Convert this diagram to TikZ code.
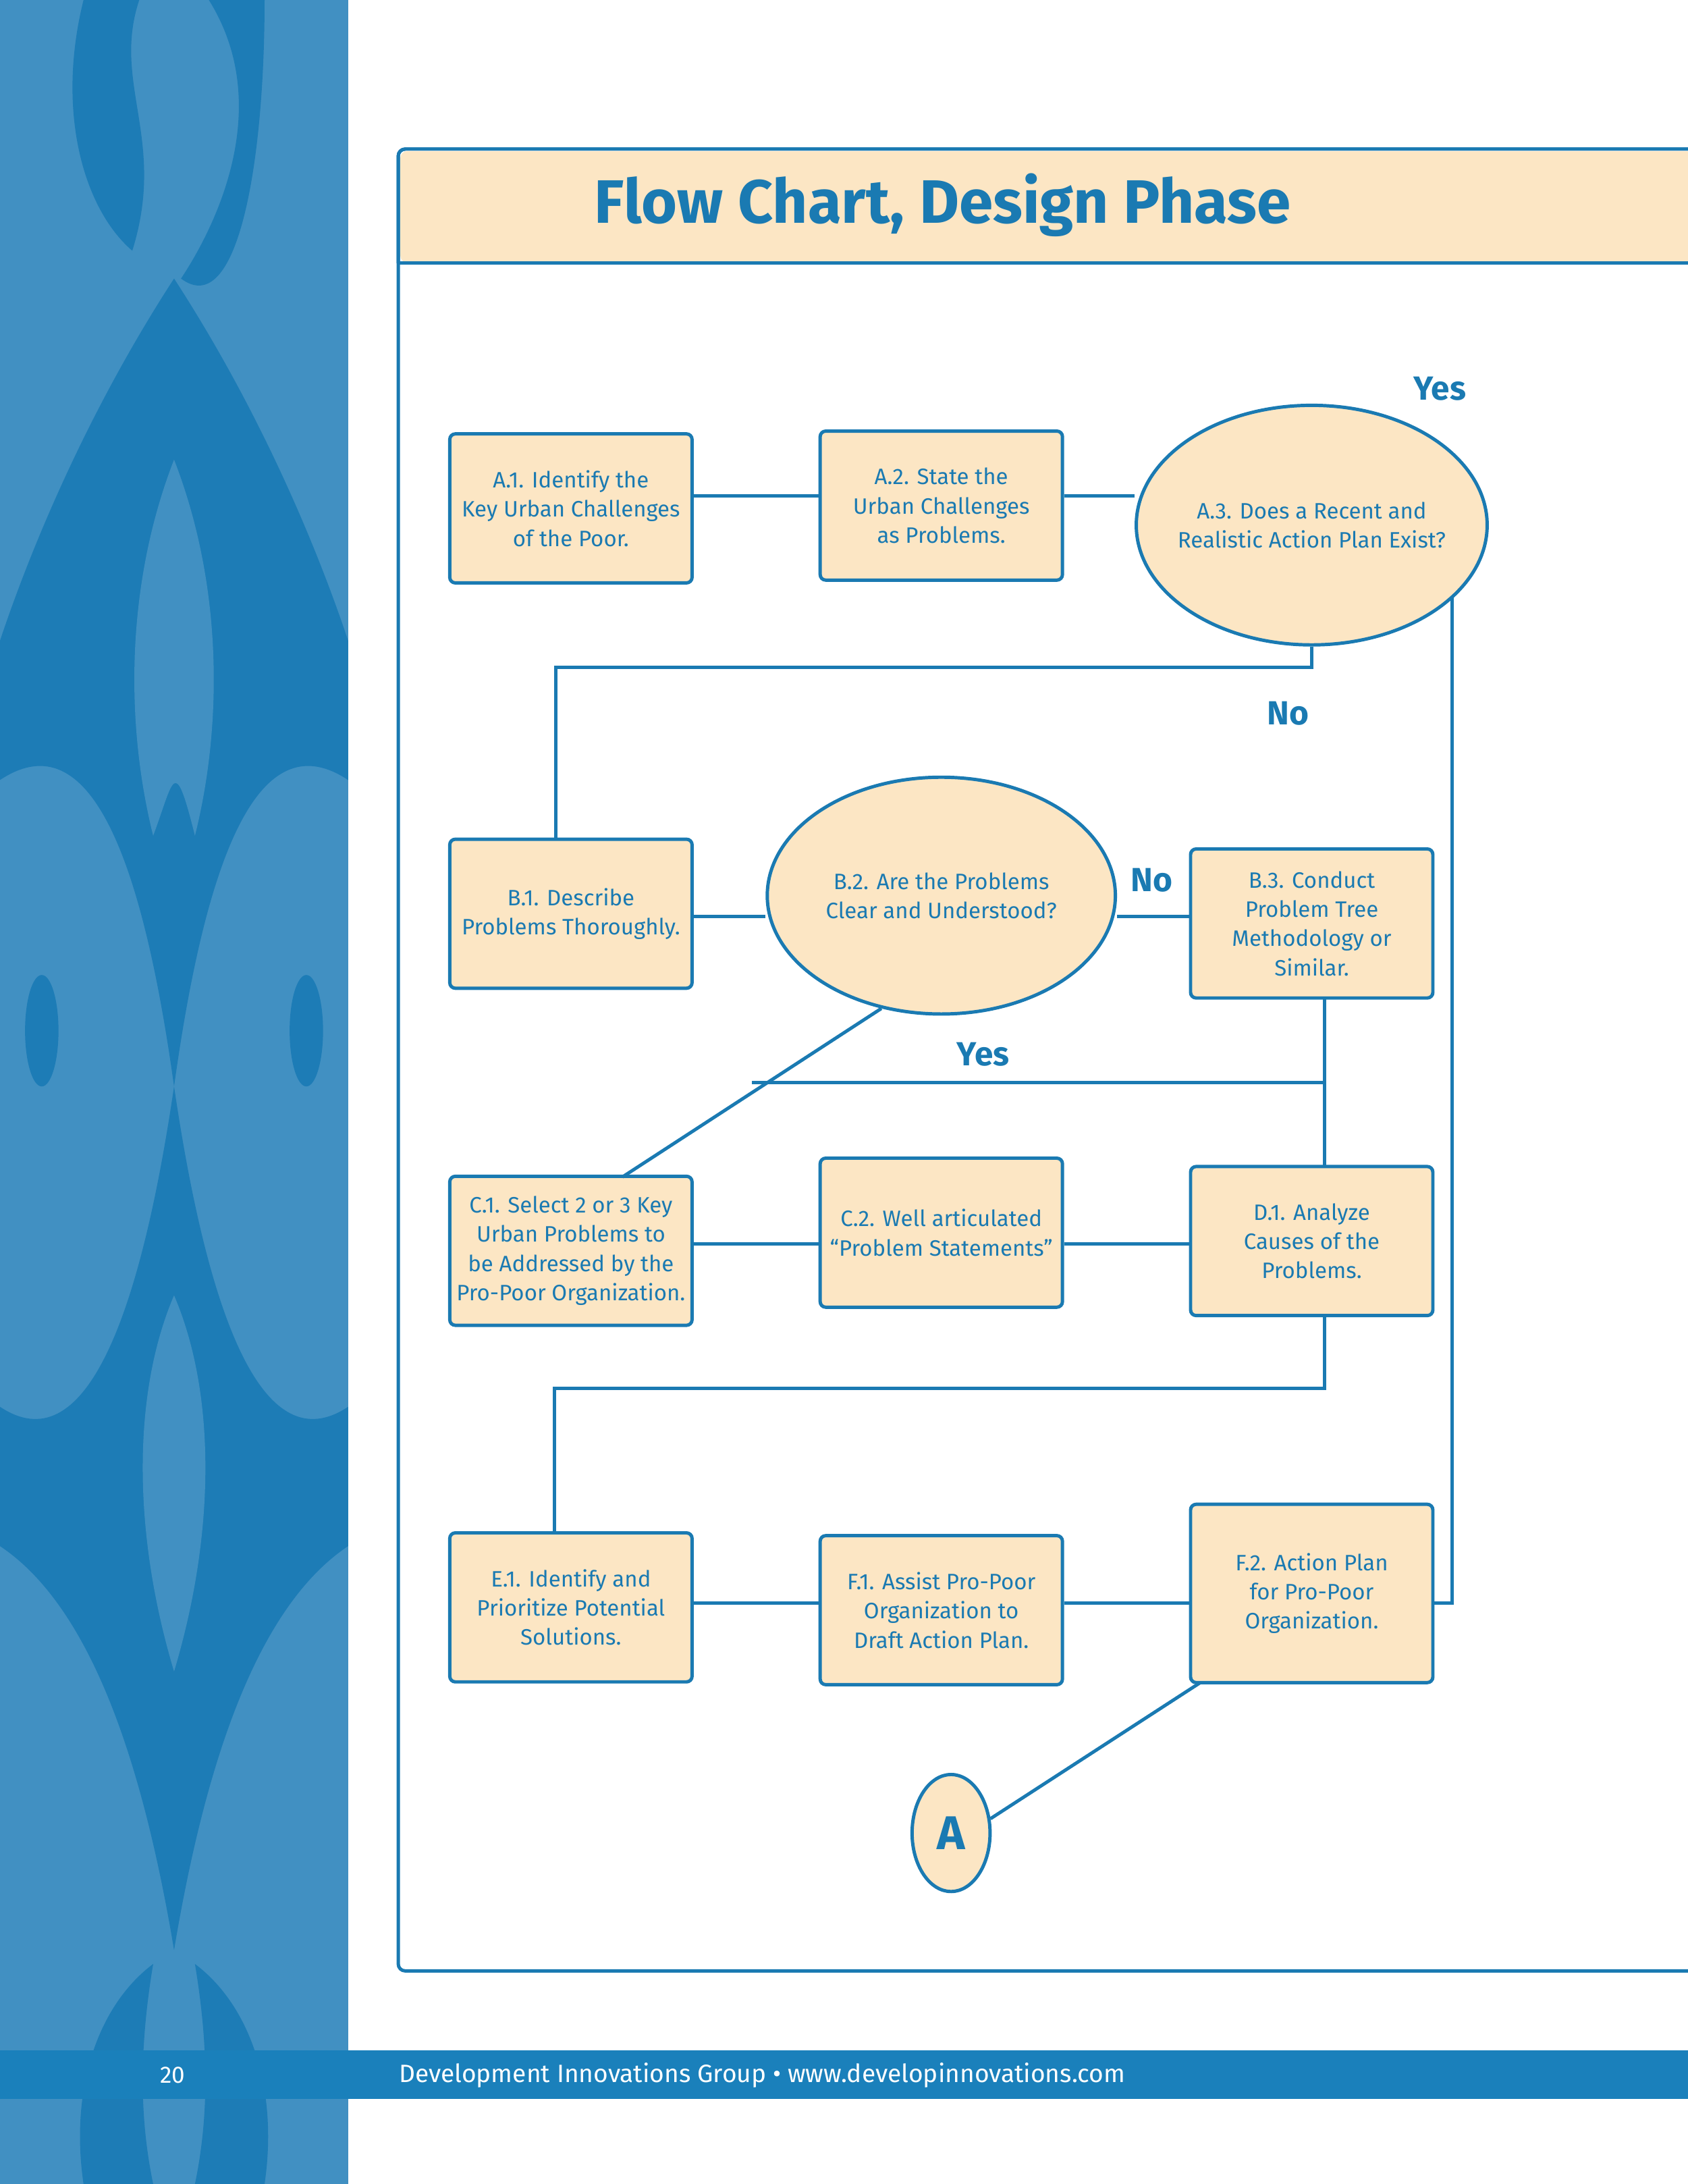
\documentclass[tikz,border=0pt]{standalone}
\usepackage{fontspec}
\setmainfont{Fira Sans}
\usetikzlibrary{shapes.geometric}
\definecolor{band}{HTML}{4190C2}
\definecolor{swirl}{HTML}{1D7CB6}
\definecolor{ln}{HTML}{1A7AB2}
\definecolor{bg}{HTML}{FCE6C4}
\definecolor{foot}{HTML}{1A80BB}
\tikzset{
 box/.style={draw=ln,line width=2.4pt,fill=bg,rounded corners=4pt,minimum width=174pt,minimum height=107pt,align=center,text=ln,font=\fontsize{16}{21}\selectfont},
 oval/.style={draw=ln,line width=2.4pt,fill=bg,ellipse,align=center,text=ln,font=\fontsize{16}{21}\selectfont},
 conn/.style={draw=ln,line width=2.4pt},
 lab/.style={text=ln,font=\fontsize{24}{26}\selectfont\bfseries}
}
\begin{document}
\begin{tikzpicture}[x=1pt,y=-1pt]
\useasboundingbox (0,0) rectangle (1212,1568);
\fill[white] (0,0) rectangle (1212,1568);
% left band
\fill[band] (0,0) rectangle (250,1568);
\begin{scope}
\clip (0,0) rectangle (250,1568);
\fill[swirl] (60,0) .. controls (40,80) and (60,150) .. (95,180) .. controls (120,100) and (80,60) .. (100,0) -- cycle;
\fill[swirl] (150,0) .. controls (200,80) and (150,170) .. (130,200) .. controls (170,230) and (190,120) .. (190,0) -- cycle;
\fill[swirl] (125,200) .. controls (60,300) and (20,400) .. (0,460) -- (0,560) .. controls (60,520) and (100,600) .. (125,780) .. controls (150,600) and (190,520) .. (250,560) -- (250,460) .. controls (230,400) and (190,300) .. (125,200) -- cycle;
\fill[band] (125,330) .. controls (90,420) and (90,520) .. (110,600) .. controls (125,560) and (125,540) .. (140,600) .. controls (160,520) and (160,420) .. (125,330) -- cycle;
\fill[swirl] (125,780) .. controls (150,950) and (190,1050) .. (250,1010) -- (250,1110) .. controls (190,1150) and (150,1250) .. (125,1400) .. controls (100,1250) and (60,1150) .. (0,1110) -- (0,1010) .. controls (60,1050) and (100,950) .. (125,780) -- cycle;
\fill[band] (125,930) .. controls (95,1000) and (95,1100) .. (125,1200) .. controls (155,1100) and (155,1000) .. (125,930) -- cycle;
\fill[swirl] (60,1568) .. controls (50,1500) and (70,1440) .. (110,1410) .. controls (100,1470) and (100,1520) .. (110,1568) -- cycle;
\fill[swirl] (190,1568) .. controls (200,1500) and (180,1440) .. (140,1410) .. controls (150,1470) and (150,1520) .. (140,1568) -- cycle;
\fill[swirl] (30,740) ellipse (12 and 40);
\fill[swirl] (220,740) ellipse (12 and 40);
\end{scope}
% footer
\fill[foot] (0,1472) rectangle (1212,1507);
\node[text=white,font=\fontsize{17}{20}\selectfont] (pg) at (124,1490) {20};
\node[text=white,font=\fontsize{18}{20}\selectfont,anchor=west] (ft) at (283,1490) {Development Innovations Group • www.developinnovations.com};
% frame
\draw[ln,line width=2.4pt,rounded corners=5pt] (1230,1415) -- (286,1415) -- (286,107) -- (1230,107);
\fill[bg,rounded corners=5pt] (287.5,108.5) rectangle (1240,188.5);
\draw[ln,line width=2.4pt] (286,189) -- (1212,189);
\draw[ln,line width=2.4pt,rounded corners=5pt] (286,189) -- (286,107) -- (1230,107);
\node[text=ln,font=\fontsize{44}{46}\selectfont\bfseries] (title) at (677,147) {Flow Chart, Design Phase};
% nodes
\node[box] (A1) at (410,365) {A.1. Identify the\\Key Urban Challenges\\of the Poor.};
\node[box] (A2) at (676,363) {A.2. State the\\Urban Challenges\\as Problems.};
\node[oval,inner xsep=-14pt,inner ysep=10pt,minimum width=252pt,minimum height=172pt] (A3) at (942,377) {A.3. Does a Recent and\\Realistic Action Plan Exist?};
\node[box] (B1) at (410,656) {B.1. Describe\\Problems Thoroughly.};
\node[oval,inner xsep=-10pt,inner ysep=10pt,minimum width=250pt,minimum height=170pt] (B2) at (676,643) {B.2. Are the Problems\\Clear and Understood?};
\node[box] (B3) at (942,663) {B.3. Conduct\\Problem Tree\\Methodology or\\Similar.};
\node[box] (C1) at (410,898) {C.1. Select 2 or 3 Key\\Urban Problems to\\be Addressed by the\\Pro-Poor Organization.};
\node[box] (C2) at (676,885) {C.2. Well articulated\\“Problem Statements”};
\node[box] (D1) at (942,891) {D.1. Analyze\\Causes of the\\Problems.};
\node[box] (E1) at (410,1154) {E.1. Identify and\\Prioritize Potential\\Solutions.};
\node[box] (F1) at (676,1156) {F.1. Assist Pro-Poor\\Organization to\\Draft Action Plan.};
\node[box,minimum height=128pt] (F2) at (942,1144) {F.2. Action Plan\\for Pro-Poor\\Organization.};
\node[oval,minimum width=56pt,minimum height=84pt,inner sep=0pt,font=\fontsize{34}{36}\selectfont\bfseries] (A) at (683,1316) {A};
% connectors
\draw[conn] (A1.east |- 0,356) -- (A2.west |- 0,356);
\draw[conn] (A2.east |- 0,356) -- (A3.west |- 0,356);
\draw[conn] (A3.south) -- (942,479) -- (399,479) -- (399,602);
\coordinate (ar) at (1043,428);
\draw[conn] (ar) |- (F2.east |- 0,1151);
\draw[conn] (B1.east |- 0,658) -- (B2.west |- 0,658);
\draw[conn] (B2.east |- 0,658) -- (B3.west |- 0,658);
\draw[conn] (B2.-118) -- (447,845);
\coordinate (yl) at (540,777);
\draw[conn] (yl) -- (951,777);
\draw[conn] (951,716) -- (951,838);
\draw[conn] (C1.east |- 0,893) -- (C2.west |- 0,893);
\draw[conn] (C2.east |- 0,893) -- (D1.west |- 0,893);
\draw[conn] (951,944) -- (951,997) -- (398,997) -- (398,1100);
\draw[conn] (E1.east |- 0,1151) -- (F1.west |- 0,1151);
\draw[conn] (F1.east |- 0,1151) -- (F2.west |- 0,1151);
\draw[conn] (862,1208) -- (A.20);
% labels
\node[lab] (y1) at (1034,279) {Yes};
\node[lab] (n1) at (925,512) {No};
\node[lab] (n2) at (827,632) {No};
\node[lab] (y2) at (706,757) {Yes};
\end{tikzpicture}
\end{document}
